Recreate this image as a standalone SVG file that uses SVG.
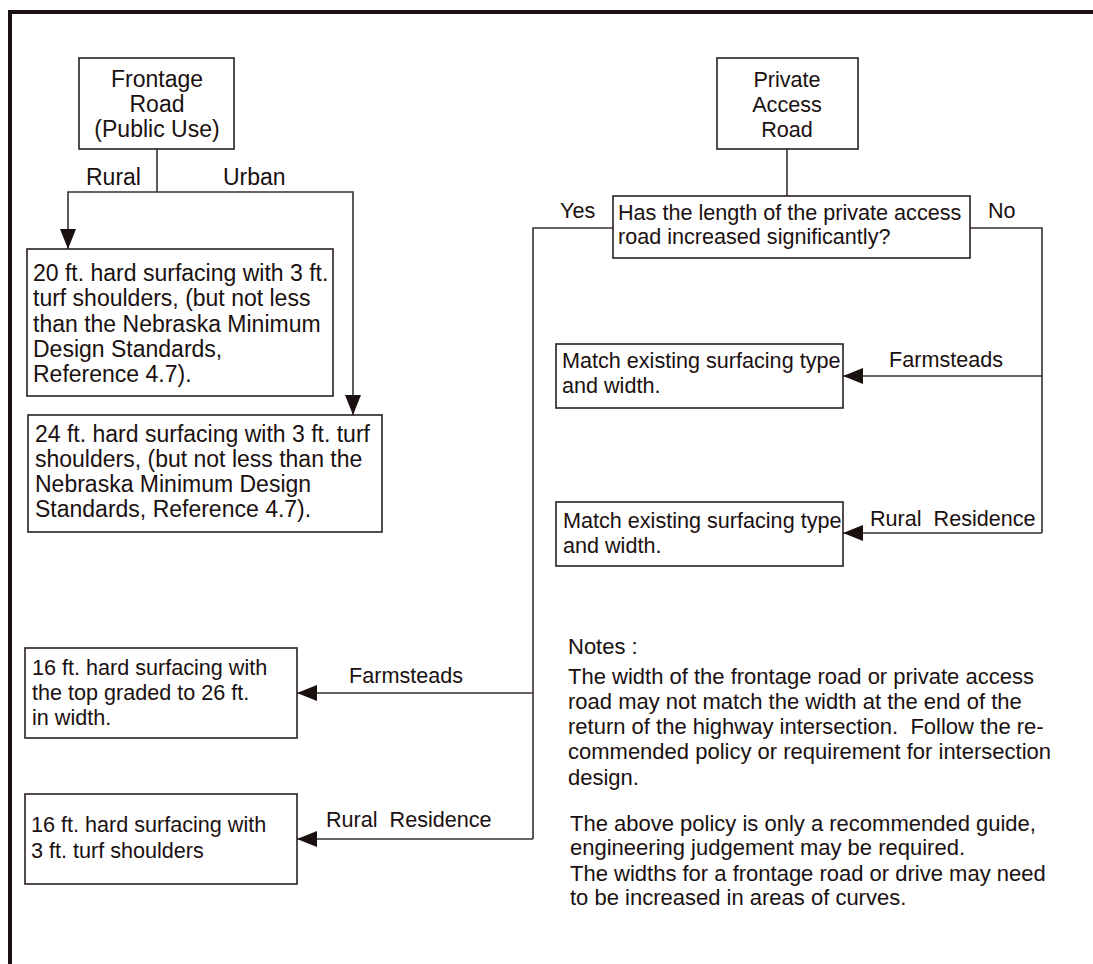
<svg xmlns="http://www.w3.org/2000/svg" width="1093" height="964" viewBox="0 0 1093 964">
<style>
.box{fill:#fff;stroke:#2a2020;stroke-width:1.6}
.ln{fill:none;stroke:#3a3030;stroke-width:1.6}
text{font-family:"Liberation Sans",Arial,sans-serif;fill:#1a1010;white-space:pre}
.t23{font-size:23px}
.t22{font-size:21.6px}
.tn{font-size:22px}
.c{text-anchor:middle}
</style>
<defs>
<marker id="ah" markerUnits="userSpaceOnUse" markerWidth="20" markerHeight="16" refX="20" refY="8" orient="auto">
<path d="M0,0 L20,8 L0,16 Z" fill="#1a1010"/>
</marker>
</defs>
<rect width="1093" height="964" fill="#fff"/>
<path d="M10,964 V12 H1093" fill="none" stroke="#1a1010" stroke-width="4"/>

<g id="connectors">
<path class="ln" d="M157,149 V192"/>
<path class="ln" d="M157,192 H68 V249" marker-end="url(#ah)"/>
<path class="ln" d="M157,192 H353 V415" marker-end="url(#ah)"/>
<path class="ln" d="M787,149 V196"/>
<path class="ln" d="M613,228 H533 V839"/>
<path class="ln" d="M970,228 H1042 V533"/>
<path class="ln" d="M1042,376 H843" marker-end="url(#ah)"/>
<path class="ln" d="M1042,533 H843" marker-end="url(#ah)"/>
<path class="ln" d="M533,693 H297" marker-end="url(#ah)"/>
<path class="ln" d="M533,839 H297" marker-end="url(#ah)"/>
<text class="t23" x="86" y="185">Rural</text>
<text class="t23" x="223" y="185">Urban</text>
<text class="t22" x="560" y="218">Yes</text>
<text class="t22" x="988" y="218">No</text>
<text class="t22" x="889" y="367">Farmsteads</text>
<text class="t22" x="870" y="526">Rural  Residence</text>
<text class="t22" x="349" y="683">Farmsteads</text>
<text class="t22" x="326" y="827">Rural  Residence</text>
</g>

<g id="frontage">
<rect class="box" x="79" y="58" width="155" height="91"/>
<text class="t23 c" x="157" y="87">Frontage</text>
<text class="t23 c" x="157" y="112">Road</text>
<text class="t23 c" x="157" y="137">(Public Use)</text>
</g>

<g id="rural20">
<rect class="box" x="27" y="249" width="306" height="147"/>
<text class="t23" x="33" y="281">20 ft. hard surfacing with 3 ft.</text>
<text class="t23" x="33" y="306">turf shoulders, (but not less</text>
<text class="t23" x="33" y="332">than the Nebraska Minimum</text>
<text class="t23" x="33" y="357">Design Standards,</text>
<text class="t23" x="33" y="382">Reference 4.7).</text>
</g>

<g id="urban24">
<rect class="box" x="28" y="415" width="354" height="117"/>
<text class="t23" x="35" y="442">24 ft. hard surfacing with 3 ft. turf</text>
<text class="t23" x="35" y="467">shoulders, (but not less than the</text>
<text class="t23" x="35" y="492">Nebraska Minimum Design</text>
<text class="t23" x="35" y="517">Standards, Reference 4.7).</text>
</g>

<g id="private">
<rect class="box" x="717" y="58" width="141" height="91"/>
<text class="t22 c" x="787" y="87">Private</text>
<text class="t22 c" x="787" y="112">Access</text>
<text class="t22 c" x="787" y="137">Road</text>
</g>

<g id="decision">
<rect class="box" x="613" y="196" width="357" height="62"/>
<text class="t22" x="618" y="220">Has the length of the private access</text>
<text class="t22" x="618" y="244">road increased significantly?</text>
</g>

<g id="match1">
<rect class="box" x="556" y="344" width="287" height="64"/>
<text class="t22" x="562" y="368">Match existing surfacing type</text>
<text class="t22" x="562" y="393">and width.</text>
</g>

<g id="match2">
<rect class="box" x="556" y="502" width="287" height="64"/>
<text class="t22" x="563" y="528">Match existing surfacing type</text>
<text class="t22" x="563" y="553">and width.</text>
</g>

<g id="farm16">
<rect class="box" x="25" y="648" width="272" height="90"/>
<text class="t22" x="32" y="675">16 ft. hard surfacing with</text>
<text class="t22" x="32" y="700">the top graded to 26 ft.</text>
<text class="t22" x="32" y="725">in width.</text>
</g>

<g id="res16">
<rect class="box" x="25" y="794" width="272" height="90"/>
<text class="t22" x="31" y="832">16 ft. hard surfacing with</text>
<text class="t22" x="31" y="858">3 ft. turf shoulders</text>
</g>

<g id="notes">
<text class="tn" x="568" y="654">Notes :</text>
<text class="tn" x="568" y="684">The width of the frontage road or private access</text>
<text class="tn" x="568" y="709">road may not match the width at the end of the</text>
<text class="tn" x="568" y="734">return of the highway intersection.  Follow the re-</text>
<text class="tn" x="568" y="759">commended policy or requirement for intersection</text>
<text class="tn" x="568" y="785">design.</text>
<text class="tn" x="570" y="831">The above policy is only a recommended guide,</text>
<text class="tn" x="570" y="855">engineering judgement may be required.</text>
<text class="tn" x="570" y="881">The widths for a frontage road or drive may need</text>
<text class="tn" x="570" y="905">to be increased in areas of curves.</text>
</g>
</svg>
